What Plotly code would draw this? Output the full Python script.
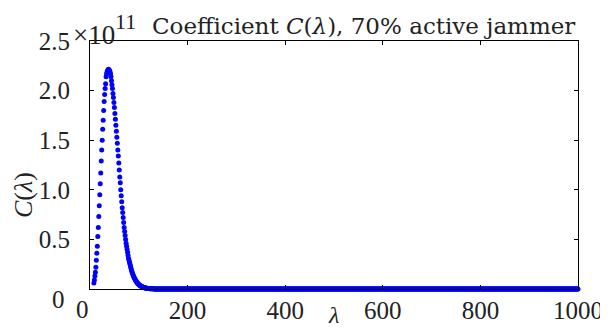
import plotly.graph_objects as go

# lambda grid and coefficient values (in units of 1e11)
lam_main = list(range(8, 131))
c_main = [
    # lambda 8..33 (rising side)
    0.06, 0.09, 0.13, 0.17, 0.22, 0.29, 0.36, 0.43, 0.53, 0.62,
    0.73, 0.84, 0.95, 1.06, 1.17, 1.29, 1.40, 1.50, 1.61, 1.70,
    1.80, 1.89, 1.96, 2.02, 2.07, 2.14,
    # lambda 34..44 (peak)
    2.17, 2.19, 2.20, 2.21, 2.215, 2.21, 2.20, 2.19, 2.17, 2.14, 2.10,
    # lambda 45..100 (falling side)
    2.06, 2.02, 1.97, 1.93, 1.88, 1.83, 1.77, 1.71, 1.65, 1.59,
    1.53, 1.47, 1.40, 1.34, 1.27, 1.20, 1.13, 1.07, 1.00, 0.94,
    0.88, 0.82, 0.77, 0.72, 0.67, 0.62, 0.58, 0.54, 0.50, 0.46,
    0.43, 0.40, 0.37, 0.34, 0.31, 0.29, 0.27, 0.25, 0.23, 0.21,
    0.19, 0.175, 0.16, 0.145, 0.13, 0.12, 0.11, 0.10, 0.09, 0.082,
    0.075, 0.068, 0.061, 0.055, 0.05, 0.045,
    # lambda 101..130 (tail-off)
    0.041, 0.037, 0.033, 0.030, 0.027, 0.024, 0.022, 0.020, 0.018, 0.016,
    0.014, 0.013, 0.011, 0.010, 0.009, 0.008, 0.007, 0.006, 0.0055, 0.005,
    0.0045, 0.004, 0.0035, 0.003, 0.0027, 0.0024, 0.0021, 0.0018, 0.0016, 0.0014,
]
lam_tail = list(range(131, 1001))
c_tail = [0.0] * len(lam_tail)   # visually zero for the rest of the range

x_ticks = [0, 200, 400, 600, 800, 1000]
x_labels = [" ", "200", "400", "600", "800", "1000"]
y_ticks = [0, 0.5, 1.0, 1.5, 2.0, 2.5]
y_labels = [" ", "0.5", "1.0", "1.5", "2.0", "2.5"]

SERIF = "Liberation Serif"
TITLE_FONT = "DejaVu Serif"
TXT = "#222222"

fig = go.Figure(go.Scatter(
    x=lam_main + lam_tail, y=c_main + c_tail, mode="markers",
    marker=dict(color="#0000ff", size=5, line=dict(width=0)),
    cliponaxis=False, showlegend=False,
))

# the page body has an 8px margin, so the figure is drawn at (8, 8)
OFF = 8
W, H = 608 - OFF, 329 - OFF
# plot area in window pixels: x 90..578, y 41..289
L, R, T, B = 90 - OFF, 608 - 578, 41 - OFF, 329 - 289
pw, ph = W - L - R, H - T - B

def px(xw):
    return (xw - OFF - L) / pw

def py(yw):
    return (H - B - (yw - OFF)) / ph

axis_common = dict(
    showline=True, linecolor="black", linewidth=1, mirror="ticks",
    ticks="inside", ticklen=4, tickcolor="black", showgrid=False,
    zeroline=False, automargin=False,
    tickfont=dict(family=SERIF, size=25, color=TXT),
)

def ann(text, xw, yw, size, xanchor="center", yanchor="middle", family=SERIF, **kw):
    return dict(text=text, x=px(xw), y=py(yw), xref="paper", yref="paper",
                xanchor=xanchor, yanchor=yanchor, showarrow=False,
                font=dict(family=family, size=size, color=TXT), **kw)

fig.update_layout(
    template="none",
    width=W, height=H,
    margin=dict(l=L, r=R, t=T, b=B, pad=0, autoexpand=False),
    plot_bgcolor="white", paper_bgcolor="white",
    xaxis=dict(range=[0, 1000], tickvals=x_ticks, ticktext=x_labels,
               ticklabelstandoff=-1, **axis_common),
    yaxis=dict(range=[0, 2.5], tickvals=y_ticks, ticktext=y_labels,
               ticklabelstandoff=14, **axis_common),
    annotations=[
        ann("0", 58, 299, 25),
        ann("0", 82, 309, 25),
        ann("×10", 71, 35, 27, xanchor="left"),
        ann("11", 125, 22, 22),
        ann("Coefficient <i>C</i>(<i>λ</i>), 70% active jammer", 577, 26, 23,
            xanchor="right", family=TITLE_FONT),
        ann("<i>C</i>(<i>λ</i>)", 23, 195, 26, textangle=-90),
        ann("<i>λ</i>", 333, 315, 24),
    ],
)

fig.write_html("out.html")
